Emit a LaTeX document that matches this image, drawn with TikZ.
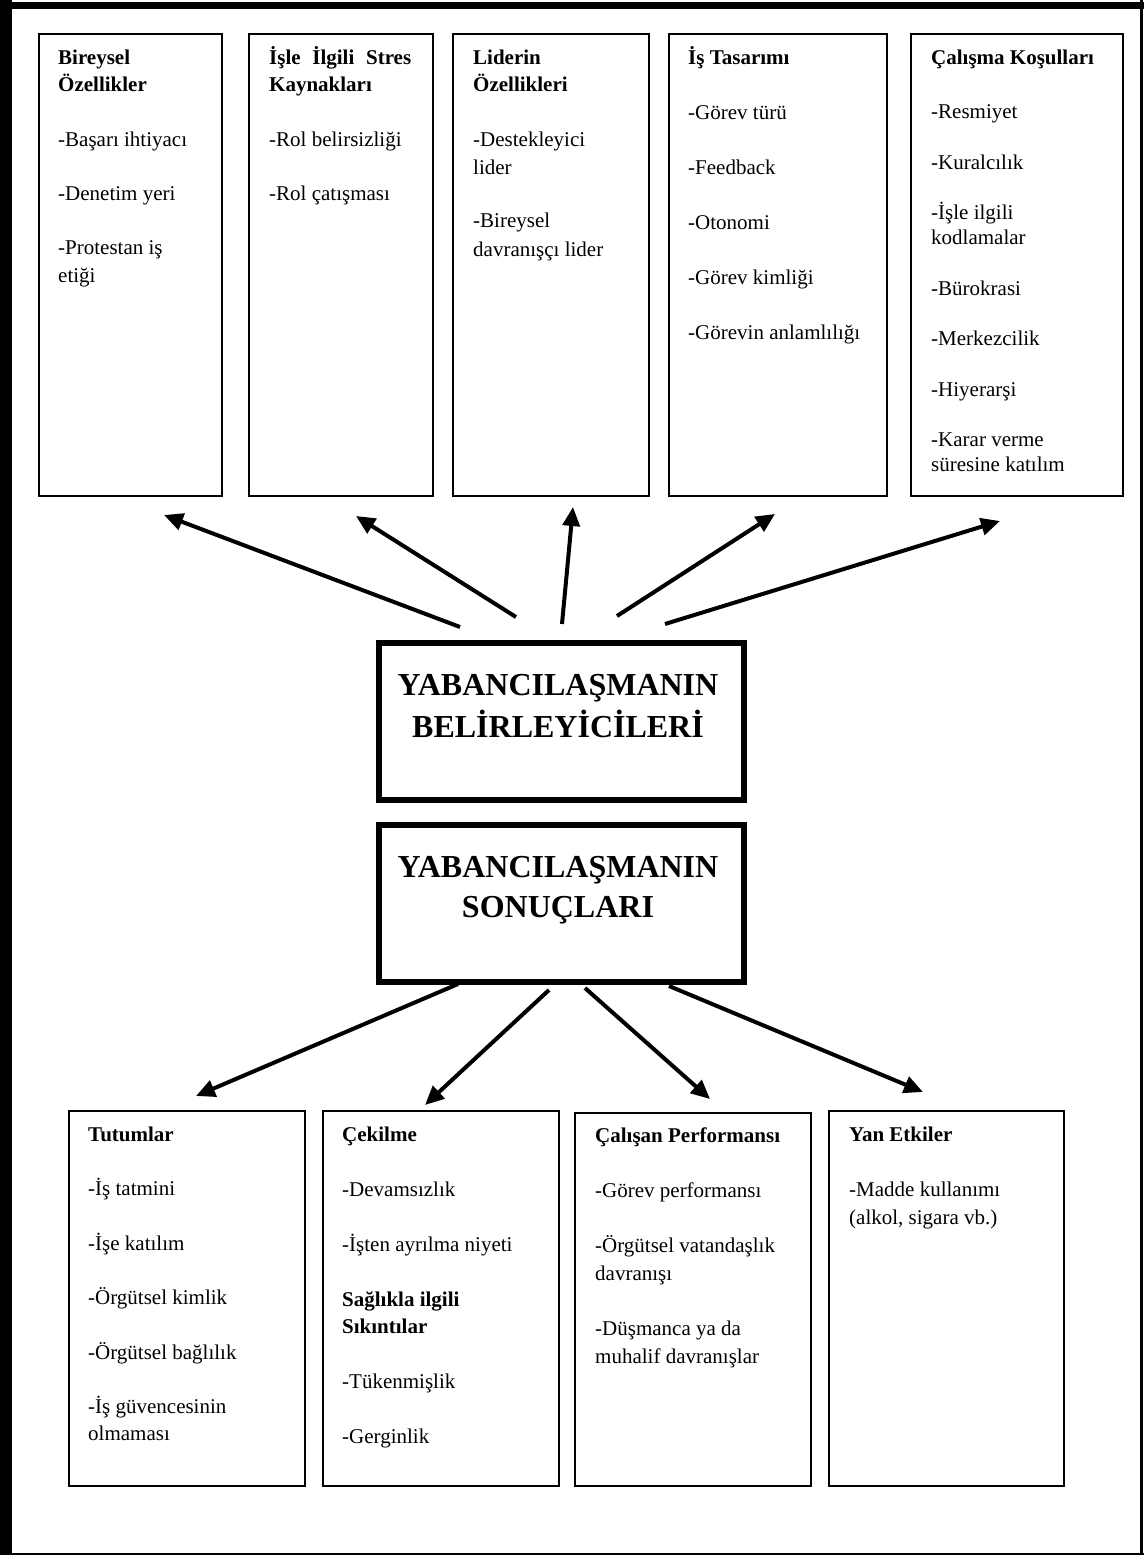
\documentclass[tikz,border=0pt]{standalone}
\usepackage{fontspec}
\setmainfont{Liberation Serif}
\usetikzlibrary{arrows.meta}
\newcommand{\bxtext}[4]{\begin{minipage}[t]{#1}\fontsize{21pt}{#2}\selectfont\setlength{\parindent}{0pt}\setlength{\parskip}{#3}\raggedright #4\end{minipage}}
\begin{document}
\begin{tikzpicture}[x=1pt,y=-1pt,
  thinbox/.style={draw, line width=2pt, rectangle, anchor=north west, inner sep=0pt},
  thickbox/.style={draw, line width=5.5pt, rectangle, anchor=north west, inner sep=0pt},
  txt/.style={anchor=base west, inner sep=0pt},
  bigtxt/.style={anchor=base, inner sep=0pt},
  arr/.style={line width=4pt, -{Triangle[length=19pt,width=17pt]}}]
\useasboundingbox (0,0) rectangle (1144,1555);
\fill[white] (0,0) rectangle (1144,1555);
% outer frame
\draw[line width=12pt] (6,0) -- (6,1555);
\draw[line width=7pt] (0,6) -- (1144,6);
\draw[line width=3.5pt] (1141.5,0) -- (1141.5,1555);
\draw[line width=2.5pt] (0,1554) -- (1144,1554);

% top boxes
\node[thinbox, minimum width=183pt, minimum height=462pt] (b1) at (38,33) {};
\node[thinbox, minimum width=184pt, minimum height=462pt] (b2) at (248,33) {};
\node[thinbox, minimum width=196pt, minimum height=462pt] (b3) at (452,33) {};
\node[thinbox, minimum width=218pt, minimum height=462pt] (b4) at (668,33) {};
\node[thinbox, minimum width=212pt, minimum height=462pt] (b5) at (910,33) {};

\node[txt] (t1) at (58,64) {\bxtext{156pt}{28pt}{26pt}{{\bfseries Bireysel\\Özellikler}\par -Başarı ihtiyacı\par -Denetim yeri\par -Protestan iş\\etiği}};
\node[txt] (t2) at (269,64) {\bxtext{152pt}{28pt}{26pt}{{\bfseries \makebox[142pt][s]{İşle İlgili Stres}\\Kaynakları}\par -Rol belirsizliği\par -Rol çatışması}};
\node[txt] (t3) at (473,64) {\bxtext{168pt}{28pt}{26pt}{{\bfseries Liderin\\Özellikleri}\par -Destekleyici\\lider\par -Bireysel\\davranışçı lider}};
\node[txt] (t4) at (688,64) {\bxtext{192pt}{28pt}{27pt}{{\bfseries İş Tasarımı}\par -Görev türü\par -Feedback\par -Otonomi\par -Görev kimliği\par -Görevin anlamlılığı}};
\node[txt] (t5) at (931,64) {\bxtext{186pt}{25pt}{25.5pt}{{\bfseries Çalışma Koşulları}\par\vspace{4pt} -Resmiyet\par -Kuralcılık\par -İşle ilgili\\kodlamalar\par -Bürokrasi\par -Merkezcilik\par -Hiyerarşi\par -Karar verme\\süresine katılım}};

% central boxes
\node[thickbox, minimum width=365pt, minimum height=157pt] (det) at (376,640) {};
\node[thickbox, minimum width=365pt, minimum height=157pt] (son) at (376,822) {};
\node[bigtxt] (dett) at (558,695) {\begin{minipage}[t]{356pt}\centering\fontsize{32pt}{42pt}\selectfont\bfseries YABANCILAŞMANIN\\BELİRLEYİCİLERİ\end{minipage}};
\node[bigtxt] (sont) at (558,877) {\begin{minipage}[t]{356pt}\centering\fontsize{32pt}{40pt}\selectfont\bfseries YABANCILAŞMANIN\\SONUÇLARI\end{minipage}};

% top arrows
\coordinate (u1s) at (460,627); \coordinate (u1e) at (164,515);
\coordinate (u2s) at (516,617); \coordinate (u2e) at (356,516);
\coordinate (u3s) at (562,624); \coordinate (u3e) at (573,507);
\coordinate (u4s) at (617,616); \coordinate (u4e) at (775,514);
\coordinate (u5s) at (665,624); \coordinate (u5e) at (1000,521);
\draw[arr] (u1s) -- (u1e);
\draw[arr] (u2s) -- (u2e);
\draw[arr] (u3s) -- (u3e);
\draw[arr] (u4s) -- (u4e);
\draw[arr] (u5s) -- (u5e);

% bottom arrows
\coordinate (d1s) at (458,984); \coordinate (d1e) at (196,1096);
\coordinate (d2s) at (549,990); \coordinate (d2e) at (425,1105);
\coordinate (d3s) at (585,988); \coordinate (d3e) at (710,1099);
\coordinate (d4s) at (669,986); \coordinate (d4e) at (923,1092);
\draw[arr] (d1s) -- (d1e);
\draw[arr] (d2s) -- (d2e);
\draw[arr] (d3s) -- (d3e);
\draw[arr] (d4s) -- (d4e);

% bottom boxes
\node[thinbox, minimum width=236pt, minimum height=375pt] (c1) at (68,1110) {};
\node[thinbox, minimum width=236pt, minimum height=375pt] (c2) at (322,1110) {};
\node[thinbox, minimum width=236pt, minimum height=373pt] (c3) at (574,1112) {};
\node[thinbox, minimum width=235pt, minimum height=375pt] (c4) at (828,1110) {};

\node[txt] (s1) at (88,1141) {\bxtext{208pt}{27pt}{27.5pt}{{\bfseries Tutumlar}\par -İş tatmini\par -İşe katılım\par -Örgütsel kimlik\par -Örgütsel bağlılık\par -İş güvencesinin\\olmaması}};
\node[txt] (s2) at (342,1141) {\bxtext{208pt}{27pt}{28pt}{{\bfseries Çekilme}\par -Devamsızlık\par -İşten ayrılma niyeti\par {\bfseries Sağlıkla ilgili\\Sıkıntılar}\par -Tükenmişlik\par -Gerginlik}};
\node[txt] (s3) at (595,1142) {\bxtext{208pt}{28pt}{27pt}{{\bfseries Çalışan Performansı}\par -Görev performansı\par -Örgütsel vatandaşlık\\davranışı\par -Düşmanca ya da\\muhalif davranışlar}};
\node[txt] (s4) at (849,1141) {\bxtext{208pt}{28pt}{27pt}{{\bfseries Yan Etkiler}\par -Madde kullanımı\\(alkol, sigara vb.)}};
\end{tikzpicture}
\end{document}
